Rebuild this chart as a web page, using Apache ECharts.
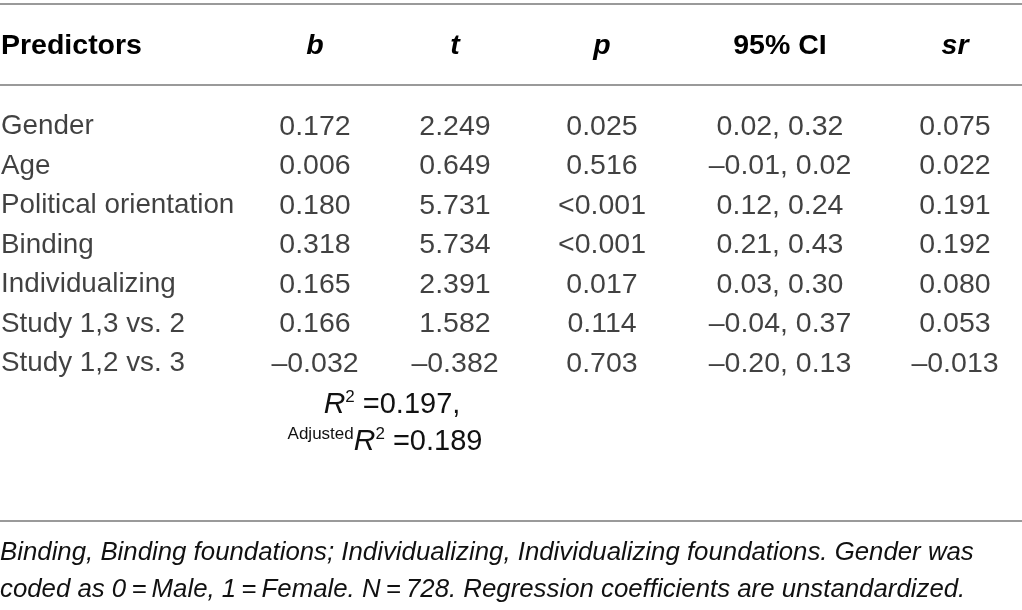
<!DOCTYPE html>
<html>
<head>
<meta charset="utf-8">
<script src="https://cdn.jsdelivr.net/npm/echarts@6/dist/echarts.min.js"></script>
<style>
html, body { margin: 0; padding: 0; background: #fff; }
#main { width: 1022px; height: 610px; }
</style>
</head>
<body>
<div id="main"></div>
<script>
// table data
var predictors = ['Gender', 'Age', 'Political orientation', 'Binding', 'Individualizing', 'Study 1,3 vs. 2', 'Study 1,2 vs. 3'];
var bValues = [0.172, 0.006, 0.180, 0.318, 0.165, 0.166, -0.032];
var tValues = [2.249, 0.649, 5.731, 5.734, 2.391, 1.582, -0.382];
var pValues = ['0.025', '0.516', '<0.001', '<0.001', '0.017', '0.114', '0.703'];
var ciLow = [0.02, -0.01, 0.12, 0.21, 0.03, -0.04, -0.20];
var ciHigh = [0.32, 0.02, 0.24, 0.43, 0.30, 0.37, 0.13];
var srValues = [0.075, 0.022, 0.191, 0.192, 0.080, 0.053, -0.013];
var rSquared = 0.197;
var adjRSquared = 0.189;

function fmt(v, d) {
	return v.toFixed(d).replace('-', '\u2013');
}

var myChart = echarts.init(document.getElementById('main'));
var bodyFont = "'Liberation Sans', Arial, sans-serif";
var textColor = '#111';

// x position of each column centre (layout only)
var colX = { pred: 1, b: 315, t: 455, p: 602, ci: 780, sr: 955 };

function column(x, texts, leftAlign, size) {
	return {
		type: 'scatter',
		symbolSize: 0,
		silent: true,
		data: texts.map(function (s, i) {
			return { value: [x, predictors[i]], label: { formatter: s } };
		}),
		label: {
			show: true,
			position: leftAlign ? 'right' : 'inside',
			distance: 0,
			fontFamily: bodyFont,
			fontSize: size || 28.5,
			color: textColor
		}
	};
}

function head(x, s, italic, align) {
	return {
		type: 'text', x: x, y: 46,
		style: {
			text: s,
			font: (italic ? 'italic ' : '') + 'bold 28.5px ' + bodyFont,
			fill: '#000',
			textAlign: align || 'center',
			textVerticalAlign: 'middle'
		}
	};
}

function rule(y) {
	return { type: 'line', shape: { x1: 0, y1: y, x2: 1022, y2: y }, style: { stroke: '#9a9a9a', lineWidth: 2 } };
}

var option = {
	animation: false,
	grid: { left: 0, right: 0, top: 107, height: 276.5 },
	xAxis: { type: 'value', min: 0, max: 1022, show: false },
	yAxis: { type: 'category', data: predictors, inverse: true, show: false },
	series: [
		column(colX.pred, predictors, true, 27.8),
		column(colX.b, bValues.map(function (v) { return fmt(v, 3); })),
		column(colX.t, tValues.map(function (v) { return fmt(v, 3); })),
		column(colX.p, pValues),
		column(colX.ci, ciLow.map(function (v, i) { return fmt(v, 2) + ', ' + fmt(ciHigh[i], 2); })),
		column(colX.sr, srValues.map(function (v) { return fmt(v, 3); }))
	],
	graphic: [
		rule(4), rule(85), rule(521),
		head(colX.pred, 'Predictors', false, 'left'),
		head(colX.b, 'b', true),
		head(colX.t, 't', true),
		head(colX.p, 'p', true),
		head(colX.ci, '95% CI', false),
		head(colX.sr, 'sr', true),
		{
			type: 'text', x: 392, y: 405,
			style: {
				text: '{i|R}{sup|2} =' + rSquared.toFixed(3) + ',',
				textAlign: 'center', textVerticalAlign: 'middle',
				font: '29px ' + bodyFont, fill: textColor,
				rich: {
					i: { fontStyle: 'italic', fontSize: 30, fontFamily: bodyFont, fill: textColor },
					sup: { fontSize: 17, fontFamily: bodyFont, padding: [0, 0, 16, 0], fill: textColor }
				}
			}
		},
		{
			type: 'text', x: 385, y: 442,
			style: {
				text: '{sm|Adjusted}{i|R}{sup|2} =' + adjRSquared.toFixed(3),
				textAlign: 'center', textVerticalAlign: 'middle',
				font: '29px ' + bodyFont, fill: textColor,
				rich: {
					sm: { fontSize: 17, fontFamily: bodyFont, padding: [0, 0, 16, 0], fill: textColor },
					i: { fontStyle: 'italic', fontSize: 30, fontFamily: bodyFont, fill: textColor },
					sup: { fontSize: 17, fontFamily: bodyFont, padding: [0, 0, 16, 0], fill: textColor }
				}
			}
		},
		{ type: 'text', x: 0, y: 553, style: { text: 'Binding, Binding foundations; Individualizing, Individualizing foundations. Gender was', font: 'italic 25.8px ' + bodyFont, fill: textColor, textVerticalAlign: 'middle' } },
		{ type: 'text', x: 0, y: 590, style: { text: 'coded as 0\u2009=\u2009Male, 1\u2009=\u2009Female. N\u2009=\u2009728. Regression coefficients are unstandardized.', font: 'italic 25.8px ' + bodyFont, fill: textColor, textVerticalAlign: 'middle' } }
	]
};
myChart.setOption(option);
</script>
</body>
</html>
